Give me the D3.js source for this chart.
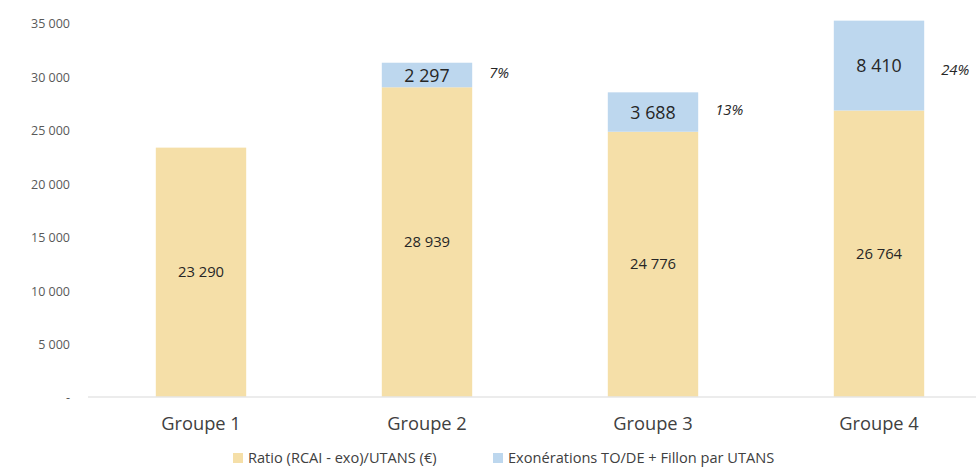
<!DOCTYPE html>
<html><head><meta charset="utf-8">
<script src="https://cdn.jsdelivr.net/npm/d3@7"></script>
<style>body{margin:0;background:#fff;} svg{display:block;font-family:"Open Sans",Lato,sans-serif;}</style>
</head><body>
<svg id="c" width="976" height="470"></svg>
<script>
const categories = ["Groupe 1","Groupe 2","Groupe 3","Groupe 4"];
const ratioValues = [23290, 28939, 24776, 26764];
const exoValues = [0, 2297, 3688, 8410];
const pctLabels = [null, "7%", "13%", "24%"];
const yTicks = [0, 5000, 10000, 15000, 20000, 25000, 30000, 35000];
const seriesNames = ["Ratio (RCAI - exo)/UTANS (€)", "Exonérations TO/DE + Fillon par UTANS"];
const colors = ["#F5DFA8", "#BDD7EE"];

const svg = d3.select("#c");
const x = d3.scaleBand().domain(categories).range([88, 992]).paddingInner(0.6).paddingOuter(0.3);
const y = d3.scaleLinear().domain([0, 35000]).range([396.5, 22.5]);
const fmt = v => d3.format(",")(v).replace(/,/g, " ");

// y tick labels
svg.append("g").selectAll("text").data(yTicks).join("text")
  .attr("x", 70).attr("y", d => y(d) + 1.5).attr("dy", "0.35em")
  .attr("text-anchor", "end").attr("font-size", 12.5).attr("fill", "#595959")
  .text(d => d === 0 ? "-" : fmt(d));

// bars
const data = categories.map((c, i) => ({c, r: ratioValues[i], e: exoValues[i], p: pctLabels[i]}));
svg.append("g").selectAll("rect").data(data).join("rect")
  .attr("x", d => x(d.c)).attr("width", x.bandwidth())
  .attr("y", d => y(d.r)).attr("height", d => y(0) - y(d.r)).attr("fill", colors[0]);
svg.append("g").selectAll("rect").data(data.filter(d => d.e > 0)).join("rect")
  .attr("x", d => x(d.c)).attr("width", x.bandwidth())
  .attr("y", d => y(d.r + d.e)).attr("height", d => y(d.r) - y(d.r + d.e)).attr("fill", colors[1]);

// axis line
svg.append("line").attr("x1", 88).attr("x2", 976).attr("y1", y(0) + 0.5).attr("y2", y(0) + 0.5)
  .attr("stroke", "#d9d9d9").attr("stroke-width", 1);

// value labels
svg.append("g").selectAll("text").data(data).join("text")
  .attr("x", d => x(d.c) + x.bandwidth() / 2).attr("y", d => (y(d.r) + y(0)) / 2).attr("dy", "0.35em")
  .attr("text-anchor", "middle").attr("font-size", 14.8).attr("fill", "#262626")
  .text(d => fmt(d.r));
svg.append("g").selectAll("text").data(data.filter(d => d.e > 0)).join("text")
  .attr("x", d => x(d.c) + x.bandwidth() / 2).attr("y", d => (y(d.r) + y(d.r + d.e)) / 2).attr("dy", "0.38em")
  .attr("text-anchor", "middle").attr("font-size", 17.8).attr("fill", "#262626")
  .text(d => fmt(d.e));
svg.append("g").selectAll("text").data(data.filter(d => d.p)).join("text")
  .attr("x", d => x(d.c) + x.bandwidth() + 17).attr("y", d => Math.max((y(d.r) + y(d.r + d.e)) / 2, 72)).attr("dy", "0.2em")
  .attr("font-size", 14.8).attr("font-style", "italic").attr("fill", "#262626")
  .text(d => d.p);

// category labels
svg.append("g").selectAll("text").data(categories).join("text")
  .attr("x", d => x(d) + x.bandwidth() / 2).attr("y", 424).attr("dy", "0.35em")
  .attr("text-anchor", "middle").attr("font-size", 18.3).attr("fill", "#404040")
  .text(d => d);

// legend
const legX = [233, 493];
const lg = svg.append("g").selectAll("g").data(seriesNames).join("g")
  .attr("transform", (d, i) => `translate(${legX[i]},458)`);
lg.append("rect").attr("x", 0).attr("y", -5).attr("width", 10).attr("height", 10).attr("fill", (d, i) => colors[i]);
lg.append("text").attr("x", 15).attr("dy", "0.35em").attr("font-size", 14.6).attr("fill", "#404040").text(d => d);
</script>
</body></html>
